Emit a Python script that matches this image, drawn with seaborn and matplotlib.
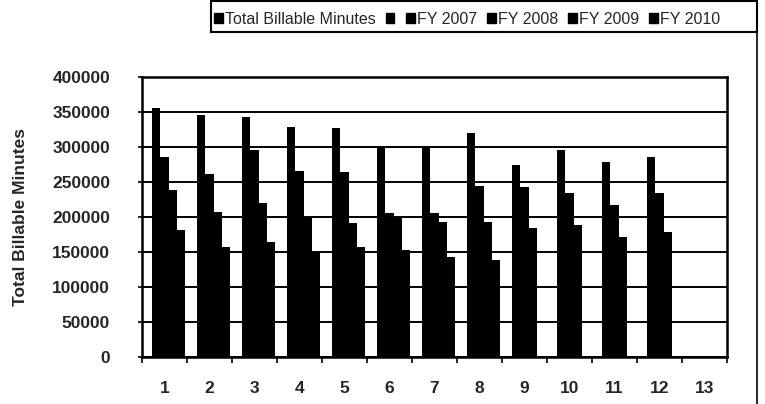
import numpy as np
import pandas as pd
import seaborn as sns
import matplotlib.pyplot as plt
from matplotlib.patches import Patch, Rectangle
from matplotlib.lines import Line2D

# months shown on the x axis (13 has no data)
months = [ str(m) for m in range(1, 14) ]

# billable minutes per month
fy2007 = [356000, 345700, 343000, 329000, 326700, 302000, 300000, 319500, 274000, 296000, 279000, 286000, np.nan]
fy2008 = [286000, 262000, 296000, 265700, 263800, 205000, 205000, 244700, 243000, 234000, 217000, 234000, np.nan]
fy2009 = [238000, 207600, 220000, 198000, 191000, 198000, 193000, 193000, 183800, 188500, 172000, 179000, np.nan]
fy2010 = [181000, 157600, 165000, 150000, 157600, 153000, 143000, 138600, np.nan, np.nan, np.nan, np.nan, np.nan]
empty = [np.nan] * 13

series = [ 'Total Billable Minutes', 'FY 2007', 'FY 2008', 'FY 2009', 'FY 2010' ]
legend_labels = [ 'Total Billable Minutes', '', 'FY 2007', 'FY 2008', 'FY 2009', 'FY 2010' ]


def buildFrame():

	"""
	long form table for seaborn
	"""

	rows = []
	for name, values in zip( series, [ empty, fy2007, fy2008, fy2009, fy2010 ] ):
		for m, v in zip( months, values ):
			rows.append( { 'Month': m, 'Series': name, 'Minutes': v } )

	return pd.DataFrame( rows )


def main():

	df = buildFrame()

	sns.set_style( 'white' )
	plt.rcParams['font.family'] = [ 'Liberation Sans', 'DejaVu Sans' ]

	fig = plt.figure( figsize=(7.65, 4.04), dpi=100 )
	ax = fig.add_axes( [ 142/765, 47/404, 585/765, 280/404 ] )

	sns.barplot( data=df, x='Month', y='Minutes', hue='Series', hue_order=series,
				order=months, palette=['black'] * 5, saturation=1, width=0.9,
				errorbar=None, legend=False, linewidth=0, ax=ax )

	# axes styling
	ax.set_xlim( -0.5, 12.5 )
	ax.set_ylim( 0, 400000 )
	ax.set_yticks( np.arange( 0, 400001, 50000 ) )
	ax.set_yticklabels( [ '{}'.format( v ) for v in range( 0, 400001, 50000 ) ] )
	ax.yaxis.grid( True, color='black', linewidth=1.4 )
	ax.set_axisbelow( True )
	for s in ax.spines.values():
		s.set_color( 'black' )
		s.set_linewidth( 1.8 )

	ax.set_xticks( np.arange( -0.5, 13, 1 ), minor=True )
	ax.tick_params( axis='x', which='major', length=0, pad=17, labelsize=12.5 )
	ax.tick_params( axis='x', which='minor', length=4, width=1.2, direction='out', color='black', bottom=True )
	ax.tick_params( axis='y', length=3, width=1.2, direction='out', color='black', left=True, pad=20, labelsize=12.5 )
	for lab in ax.get_xticklabels() + ax.get_yticklabels():
		lab.set_fontweight( 'bold' )

	ax.set_xlabel( '' )
	ax.set_ylabel( 'Total Billable Minutes', fontsize=12.5, fontweight='bold', labelpad=17 )

	# legend strip at the top
	handles = [ Patch( facecolor='black', edgecolor='black' ) for _ in legend_labels ]
	fig.legend( handles, legend_labels, ncol=6, loc='lower left',
				bbox_to_anchor=( 211/765, (404-30)/404 ), frameon=False,
				fontsize=11.5, handlelength=0.55, handleheight=0.55, handletextpad=0.1,
				columnspacing=0.65, borderaxespad=0, borderpad=0.2 )
	fig.add_artist( Rectangle( ( 211/765, (404-32)/404 ), (757-211)/765, 31/404,
							transform=fig.transFigure, fill=False, edgecolor='black', linewidth=1.5 ) )

	# right edge of the chart area
	fig.add_artist( Line2D( [ 757/765, 757/765 ], [ 0, 1 ], color='black', linewidth=1.2 ) )

	fig.savefig( 'out.png', dpi=100 )
	return


# execute main
if __name__ == '__main__':
	main()
